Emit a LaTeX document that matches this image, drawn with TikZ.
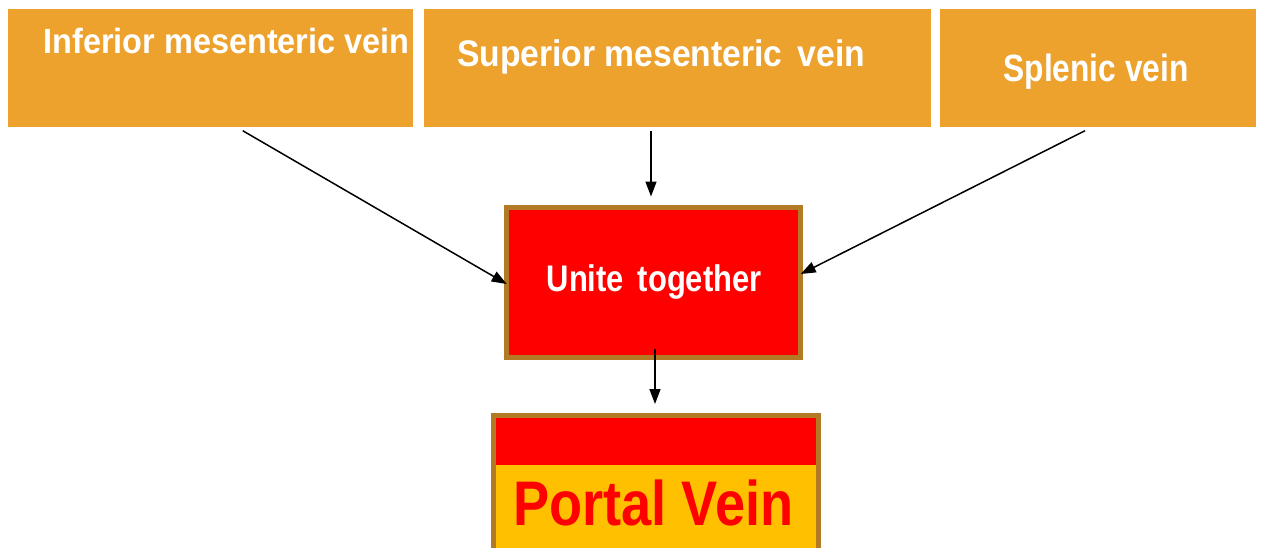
\documentclass[tikz,border=0pt]{standalone}
\usepackage{fontspec}
\setmainfont{Liberation Sans}
\usetikzlibrary{arrows.meta}
\definecolor{orng}{HTML}{EEA22E}
\definecolor{brwn}{HTML}{B27A25}
\definecolor{yelw}{HTML}{FFC000}
\definecolor{rd}{HTML}{FF0000}
\tikzset{
  every node/.style={outer sep=0pt, inner sep=0pt},
  topbox/.style={fill=orng, draw=none, anchor=north west},
  lbl/.style={anchor=base west, text=white, font=\bfseries},
  arr/.style={line width=1.5pt, -{Triangle[length=15pt,width=11pt]}},
}
\newcommand{\fitw}[3]{\resizebox{#1pt}{\height}{\fontsize{#2}{#2}\selectfont #3}}
\begin{document}
\begin{tikzpicture}[x=1pt,y=-1pt]
\useasboundingbox (0,0) rectangle (1261,547);
\clip (0,0) rectangle (1261,547);
% top boxes
\node[topbox, minimum width=405pt, minimum height=118pt] (imv) at (8,9) {};
\node[topbox, minimum width=507pt, minimum height=118pt] (smv) at (424,9) {};
\node[topbox, minimum width=316pt, minimum height=118pt] (spv) at (940,9) {};
\node[lbl] (imvt) at (43.5,53.3) {\fitw{366}{35}{Inferior mesenteric vein}};
\node[lbl] (smvt) at (457,66.7) {\fitw{408}{37}{Superior mesenteric\, vein}};
\node[lbl] (spvt) at (1003.5,81.7) {\fitw{185}{38}{Splenic vein}};
% unite box
\node[fill=rd, draw=brwn, line width=5pt, anchor=north west,
      minimum width=294pt, minimum height=150pt] (ut) at (506.5,207.5) {};
\node[lbl] (utt) at (546.7,291.7) {\fitw{215}{37}{Unite\, together}};
% portal vein box
\node[fill=yelw, anchor=north west,
      minimum width=325.5pt, minimum height=160pt] (pv) at (493.2,415.2) {};
\node[fill=rd, anchor=north west,
      minimum width=325.5pt, minimum height=49.5pt] (pvband) at (493.2,415.2) {};
\node[draw=brwn, line width=5pt, anchor=north west,
      minimum width=325.5pt, minimum height=160pt] (pvframe) at (493.2,415.2) {};
\node[lbl, text=rd] (pvt) at (513.3,525) {\fitw{280}{63}{Portal Vein}};
% connector end points
\coordinate (a1s) at (242.7,130.7);
\coordinate (a1e) at (506.7,284);
\coordinate (a2s) at (651,131);
\coordinate (a2e) at (651,196.5);
\coordinate (a3s) at (1085,130.7);
\coordinate (a3e) at (800.7,274);
\coordinate (a4s) at (655,349);
\coordinate (a4e) at (655,404);
\draw[arr] (a1s) -- (a1e);
\draw[arr] (a2s) -- (a2e);
\draw[arr] (a3s) -- (a3e);
\draw[arr] (a4s) -- (a4e);
\end{tikzpicture}
\end{document}
